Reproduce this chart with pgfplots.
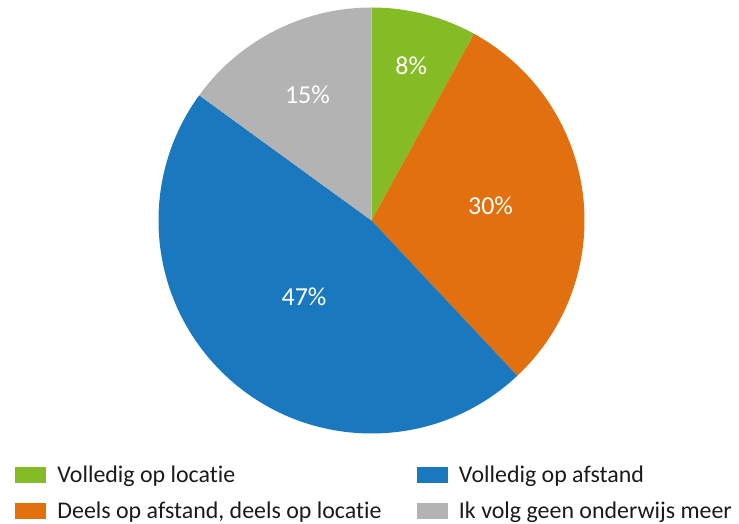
\documentclass[border=0pt]{standalone}
\usepackage{pgfplots}
\usepackage{pgfplotstable}
\pgfplotsset{compat=1.18}
\usepackage{fontspec}
\setmainfont[Ligatures=NoCommon]{Carlito}
\definecolor{pgreen}{HTML}{85BC26}
\definecolor{porange}{HTML}{E2700E}
\definecolor{pblue}{HTML}{1A79BE}
\definecolor{pgray}{HTML}{B3B3B3}
\definecolor{ltext}{HTML}{1A1A1A}
\pgfplotstableread[col sep=comma]{
value,color,dist
8,pgreen,160
30,porange,120
47,pblue,102
15,pgray,141
}\piedata
\begin{document}
\begin{tikzpicture}
\begin{axis}[width=739bp,height=524bp,scale only axis,
  xmin=0,xmax=739,ymin=0,ymax=524,hide axis,clip=false,
  legend columns=2,
  legend style={at={(axis description cs:0.0203,0.1088)},anchor=north west,
    draw=none,fill=none,inner sep=0pt,outer sep=0pt,row sep=16bp,
    font=\fontsize{24}{29}\selectfont,text=ltext,
    cells={anchor=base west},
    nodes={inner sep=0pt,text height=15bp,text depth=5bp},
    /tikz/every odd column/.append style={column sep=12bp},
    /tikz/every even column/.append style={column sep=35bp}},
]
\xdef\cum{0}
\pgfplotstablegetrowsof{\piedata}
\pgfmathtruncatemacro\N{\pgfplotsretval-1}
\foreach \i in {0,...,\N}{
  \pgfplotstablegetelem{\i}{value}\of\piedata \let\val\pgfplotsretval
  \pgfplotstablegetelem{\i}{color}\of\piedata \let\col\pgfplotsretval
  \pgfplotstablegetelem{\i}{dist}\of\piedata \let\dst\pgfplotsretval
  \pgfmathsetmacro\a{90-3.6*\cum}
  \pgfmathsetmacro\b{90-3.6*(\cum+\val)}
  \pgfmathsetmacro\m{(\a+\b)/2}
  \pgfmathsetmacro\lx{371.5+\dst*cos(\m)}
  \pgfmathsetmacro\ly{303.5+\dst*sin(\m)}
  \edef\temp{\noexpand\fill[\col] (axis cs:371.5,303.5) -- ++(\a:213bp) arc[start angle=\a,end angle=\b,radius=213bp] -- cycle;
    \noexpand\node[text=white,inner sep=0pt,font=\noexpand\fontsize{26}{30}\noexpand\selectfont] at (axis cs:\lx,\ly) {\val\noexpand\%};}
  \temp
  \pgfmathsetmacro\newcum{\cum+\val}
  \xdef\cum{\newcum}
}
\addlegendimage{legend image code/.code={\fill[pgreen] (0bp,0bp) rectangle (30bp,15bp);}}
\addlegendentry{Volledig op locatie}
\addlegendimage{legend image code/.code={\fill[pblue] (0bp,0bp) rectangle (30bp,15bp);}}
\addlegendentry{Volledig op afstand}
\addlegendimage{legend image code/.code={\fill[porange] (0bp,0bp) rectangle (30bp,15bp);}}
\addlegendentry{Deels op afstand, deels op locatie}
\addlegendimage{legend image code/.code={\fill[pgray] (0bp,0bp) rectangle (30bp,15bp);}}
\addlegendentry{Ik volg geen onderwijs meer}
\end{axis}
\pgfresetboundingbox
\path (current axis.south west) rectangle (current axis.north east);
\end{tikzpicture}
\end{document}
